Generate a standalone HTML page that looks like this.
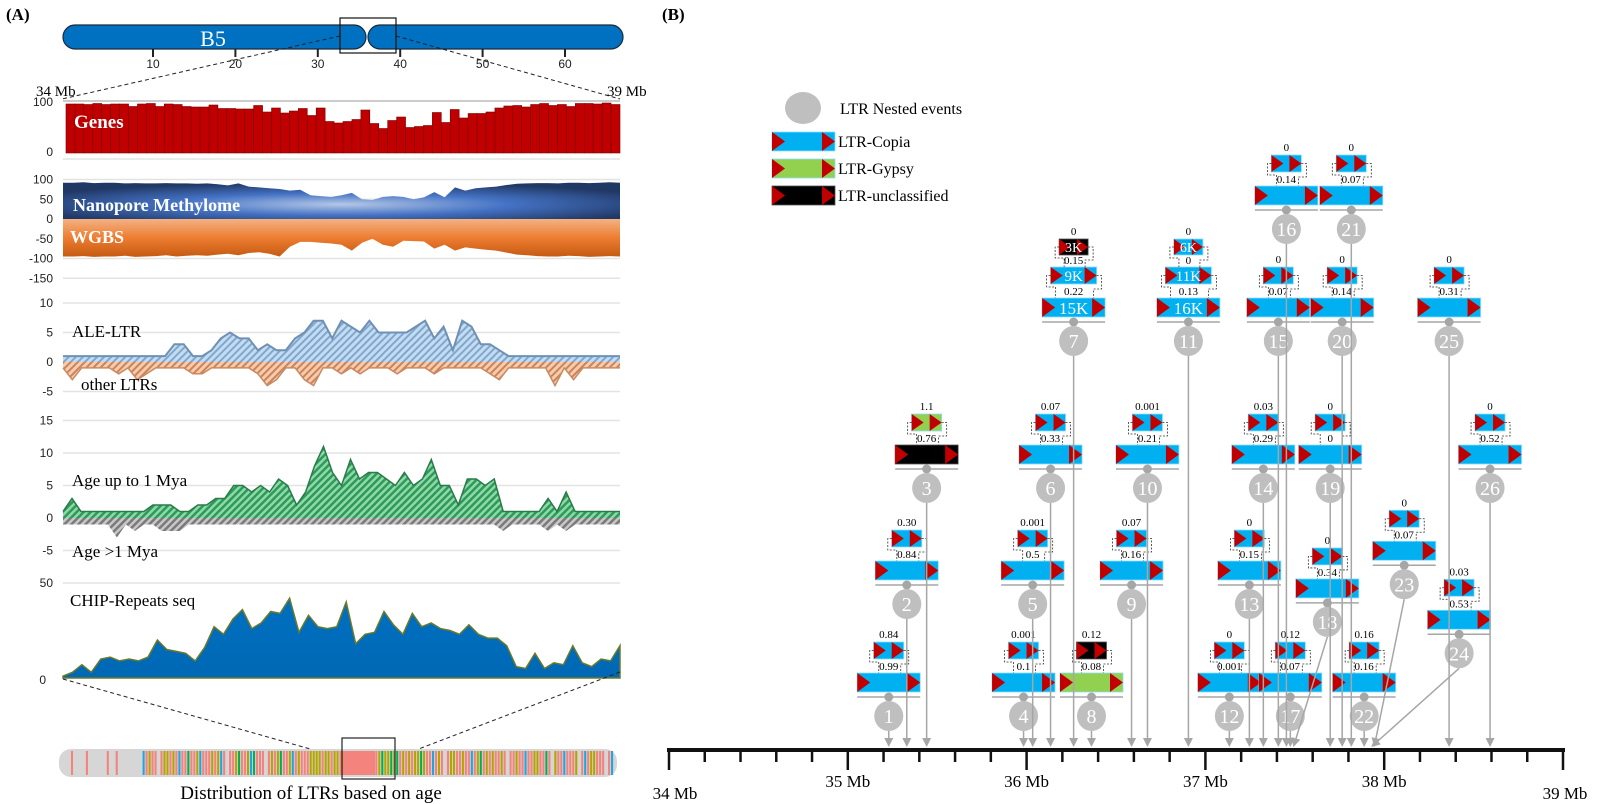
<!DOCTYPE html>
<html><head><meta charset="utf-8">
<style>
html,body{margin:0;padding:0;background:#fff;}
svg{display:block;font-family:"Liberation Serif",serif;}
.ax{font-family:"Liberation Sans",sans-serif;font-size:12px;fill:#222;}
</style></head>
<body>
<svg id="fig" width="1618" height="804" viewBox="0 0 1618 804" xmlns="http://www.w3.org/2000/svg">
<defs>
<pattern id="hBlue" width="5" height="5" patternUnits="userSpaceOnUse" patternTransform="rotate(45)"><rect width="5" height="5" fill="#c5dcf0"/><rect width="2" height="5" fill="#7fa8d0"/></pattern>
<pattern id="hOrange" width="5" height="5" patternUnits="userSpaceOnUse" patternTransform="rotate(45)"><rect width="5" height="5" fill="#f8cbad"/><rect width="2" height="5" fill="#c9845a"/></pattern>
<pattern id="hGreen" width="5" height="5" patternUnits="userSpaceOnUse" patternTransform="rotate(45)"><rect width="5" height="5" fill="#8fd8a8"/><rect width="2.5" height="5" fill="#2e9a5a"/></pattern>
<pattern id="hGray" width="5" height="5" patternUnits="userSpaceOnUse" patternTransform="rotate(45)"><rect width="5" height="5" fill="#c8c8c8"/><rect width="2.5" height="5" fill="#7a7a7a"/></pattern>
<radialGradient id="gBlue" cx="0.5" cy="0.6" r="0.6"><stop offset="0" stop-color="#b4c7e7"/><stop offset="0.5" stop-color="#4472c4"/><stop offset="1" stop-color="#203864"/></radialGradient>
<linearGradient id="gOrange" x1="0" y1="0" x2="0" y2="1"><stop offset="0" stop-color="#f4b183"/><stop offset="0.5" stop-color="#ed7d31"/><stop offset="1" stop-color="#c55a11"/></linearGradient>
<linearGradient id="gChip" x1="0" y1="0" x2="0" y2="1"><stop offset="0" stop-color="#0070c0"/><stop offset="1" stop-color="#0068b5"/></linearGradient>
</defs>
<g id="panelA"></g>
<g id="panelB"></g>
</svg>
<script>
// ---------------- Panel A data ----------------
const geneValues = [98,98,97,99,97,98,98,93,98,99,93,98,97,93,92,92,96,89,89,88,88,95,82,90,80,84,89,75,90,63,60,63,67,86,59,49,65,72,51,53,55,81,61,87,70,79,79,82,90,94,95,92,97,99,95,97,93,99,99,98,100,97];
const nanoporeValues = [92,92,93,91,92,92,90,91,90,90,91,90,90,89,90,88,85,90,82,80,78,76,72,74,60,58,56,60,66,50,48,56,58,56,50,55,68,55,80,72,78,80,82,86,89,90,91,91,90,92,92,91,92,93,92];
const wgbsValues = [-95,-95,-94,-96,-95,-95,-93,-96,-95,-94,-92,-95,-93,-92,-93,-90,-88,-92,-86,-84,-88,-95,-70,-58,-58,-60,-62,-65,-80,-60,-50,-65,-70,-55,-56,-57,-75,-65,-80,-72,-75,-78,-80,-85,-90,-92,-94,-95,-95,-93,-94,-96,-95,-94,-95];
const aleValues = [1,1,1,1,1,1,1,1,1,1,1,1,3,3,1,1,2,4,5,4,4,2,3,2,2,4,5,7,7,4,7,6,5,7,5,5,5,5,6,7,4,6,2,7,6,3,3,2,1,1,1,1,1,1,1,1,1,1,1,1,1];
const otherLtrValues = [-1,-3,-1,-1,-1,-1,-2,-1,-3,-2,-1,-1,-1,-1,-2,-2,-1,-1,-1,-1,-1,-2,-4,-3,-1,-1,-3,-4,-1,-1,-2,-1,-2,-1,-1,-1,-2,-1,-1,-1,-2,-1,-1,-1,-1,-1,-2,-3,-1,-1,-1,-1,-1,-4,-1,-3,-1,-1,-1,-1,-1];
const youngValues = [1,3,1,1,1,1,1,1,1,1,2,2,2,1,1,2,2,3,3,5,5,4,5,4,6,5,2,4,8,11,7,5,9,6,7,7,6,5,7,5,6,9,5,5,2,6,6,5,6,1,1,1,1,1,3,1,4,1,1,1,1,1,1];
const oldValues = [-1,-1,-1,-1,-1,-1,-3,-1,-2,-1,-1,-2,-2,-2,-1,-1,-1,-1,-1,-1,-1,-1,-1,-1,-1,-1,-1,-1,-1,-1,-1,-1,-1,-1,-1,-1,-1,-1,-1,-1,-1,-1,-1,-1,-1,-1,-1,-1,-1,-2,-1,-1,-1,-1,-2,-1,-2,-1,-1,-1,-1,-1,-1];
const chipValues = [1,3,7,3,10,11,9,10,9,11,20,15,14,13,9,16,27,23,31,36,26,29,35,34,42,24,33,27,26,27,40,18,23,24,35,28,23,34,27,29,26,25,23,28,23,21,21,17,6,5,13,5,8,7,17,8,6,10,9,17];
const chromTicks = [10,20,30,40,50,60];
const methTicks = [100,50,0,-50,-100,-150];
const aleTicks = [10,5,0,-5];
const ageTicks = [15,10,5,0,-5];
const chipTicks = [50,0];
const ageStrip = "gggsggggsggggggsggsggggggggbsossgsoososbssessobsssosobsgssoessobesssgsosoessobsosssoooosoosoososssssssssssoeooeoesososooeossbsosgsoossossbsoesosossosgssossbssoossesgossbsssogsbsoosssgsb";

// ---------------- Panel B data ----------------
const eventIds = [1,2,3,4,5,6,7,8,9,10,11,12,13,14,15,16,17,18,19,20,21,22,23,24,25,26];
const eventMb = [35.229,35.330,35.441,35.983,36.034,36.134,36.263,36.363,36.587,36.676,36.905,37.134,37.246,37.324,37.408,37.453,37.475,37.682,37.698,37.765,37.816,37.888,38.112,38.419,38.363,38.592];
const eventTargetMb = [35.229,35.330,35.441,35.983,36.034,36.134,36.263,36.363,36.587,36.676,36.905,37.134,37.246,37.324,37.408,37.453,37.475,37.492,37.698,37.765,37.816,37.888,37.944,37.927,38.363,38.592];
const eventTier = [0,1,2,0,1,2,3,0,1,2,3,0,1,2,3,4,0,0.84,2,3,4,0,1.17,0.56,3,2];
const outerType = ["C","C","U","C","C","C","C","G","C","C","C","C","C","C","C","C","C","C","C","C","C","C","C","C","C","C"];
const innerType = ["C","C","G","C","C","C","C","U","C","C","C","C","C","C","C","C","C","C","C","C","C","C","C","C","C","C"];
const innerAge = ["0.84","0.30","1.1","0.001","0.001","0.07","0.15","0.12","0.07","0.001","0","0","0","0.03","0","0","0.12","0","0","0","0","0.16","0","0.03","0","0"];
const outerAge = ["0.99","0.84","0.76","0.1","0.5","0.33","0.22","0.08","0.16","0.21","0.13","0.001","0.15","0.29","0.07","0.14","0.07","0.34","0","0.14","0.07","0.16","0.07","0.53","0.31","0.52"];
const outerLabel = ["","","","","","","15K","","","","16K","","","","","","","","","","","","","","",""];
const innerLabel = ["","","","","","","9K","","","","11K","","","","","","","","","","","","","","",""];
const thirdLabel = ["","","","","","","3K","","","","6K","","","","","","","","","","","","","","",""];
const thirdType = ["","","","","","","U","","","","C","","","","","","","","","","","","","","",""];
const thirdAge = ["","","","","","","0","","","","0","","","","","","","","","","","","","","",""];
const axisMbStart = 34, axisMbEnd = 39;
const axisLabels = ["34 Mb","35 Mb","36 Mb","37 Mb","38 Mb","39 Mb"];
const legendLabels = ["LTR Nested events","LTR-Copia","LTR-Gypsy","LTR-unclassified"];

// ---------------- helpers ----------------
const NS="http://www.w3.org/2000/svg";
function mk(parent, tag, attrs, text){
  const e=document.createElementNS(NS,tag);
  for(const k in attrs) e.setAttribute(k,attrs[k]);
  if(text!==undefined) e.textContent=text;
  parent.appendChild(e); return e;
}
const A=document.getElementById('panelA');
const B=document.getElementById('panelB');
const AX0=63, AX1=620;

function areaPath(vals, yScale){
  const n=vals.length, step=(AX1-AX0)/(n-1);
  let d=`M${AX0},${yScale(0)}`;
  vals.forEach((v,i)=>{ d+=` L${(AX0+i*step).toFixed(1)},${yScale(v).toFixed(1)}`; });
  d+=` L${AX1},${yScale(0)} Z`;
  return d;
}
function linePath(vals, yScale){
  const n=vals.length, step=(AX1-AX0)/(n-1);
  return vals.map((v,i)=>`${i?'L':'M'}${(AX0+i*step).toFixed(1)},${yScale(v).toFixed(1)}`).join(' ');
}
function gridAndTicks(ticks, yScale, name, xLab){
  ticks.forEach(t=>{
    const g=mk(A,'line',{x1:AX0,x2:AX1,y1:yScale(t),y2:yScale(t),stroke:'#e3e3e3','stroke-width':1.5});
    
    
    const l=mk(A,'text',{x:xLab||53,y:yScale(t)+4,'text-anchor':'end',class:'ax'},String(t));
    
    
  });
}

// ---------------- Panel A ----------------
(function(){
  let t=mk(A,'text',{x:6,y:20,'font-size':17,'font-weight':'bold'},'(A)');
   
  // chromosome
  let c1=mk(A,'rect',{x:63,y:25,width:303,height:24,rx:12,fill:'#0070c0',stroke:'#1a2a3a','stroke-width':1.2});
   
  let c2=mk(A,'rect',{x:368,y:25,width:255,height:24,rx:12,fill:'#0070c0',stroke:'#1a2a3a','stroke-width':1.2});
   
  t=mk(A,'text',{x:213,y:46,'font-size':22,fill:'#fff','text-anchor':'middle'},'B5');
   
  const chrX=v=>153+(v-10)*8.24;
  chromTicks.forEach(v=>{
    const tk=mk(A,'line',{x1:chrX(v),x2:chrX(v),y1:49,y2:57,stroke:'#222','stroke-width':2});
     
    const tl=mk(A,'text',{x:chrX(v),y:68,'text-anchor':'middle',class:'ax','font-size':13,fill:'#444'},String(v));
     
  });
  let zb=mk(A,'rect',{x:340,y:18,width:56,height:35,fill:'none',stroke:'#111','stroke-width':1.2});
   
  let dl=mk(A,'path',{d:'M340,36 L62,99 M396,36 L620,99',stroke:'#222','stroke-width':1,'stroke-dasharray':'4,3',fill:'none'});
   
  t=mk(A,'text',{x:36,y:96,'font-size':15},'34 Mb');  
  t=mk(A,'text',{x:607,y:96,'font-size':15},'39 Mb');  

  // Genes
  const gy=v=>153-v*0.5;
  mk(A,'line',{x1:AX0,x2:AX1,y1:101,y2:101,stroke:'#ccc','stroke-width':2});
  mk(A,'line',{x1:AX0,x2:AX1,y1:159,y2:159,stroke:'#e3e3e3','stroke-width':1.5});
  t=mk(A,'text',{x:53,y:106,'text-anchor':'end',class:'ax','font-size':11},'100');  
  t=mk(A,'text',{x:53,y:156,'text-anchor':'end',class:'ax','font-size':11},'0');  
  const bw=(AX1-66)/geneValues.length;
  geneValues.forEach((v,i)=>{
    const b=mk(A,'rect',{x:66+i*bw,y:gy(v),width:bw,height:153-gy(v),fill:'#c00000',stroke:'#7a0000','stroke-width':0.6});
    
    
  });
  t=mk(A,'text',{x:74,y:128,'font-size':19,'font-weight':'bold',fill:'#fff'},'Genes');  

  // Methylome
  const my=v=>219-v*0.395;
  gridAndTicks(methTicks,my,'methylation');
  let p=mk(A,'path',{d:areaPath(nanoporeValues,my),fill:'url(#gBlue)'});  
  p=mk(A,'path',{d:areaPath(wgbsValues,my),fill:'url(#gOrange)'});  
  t=mk(A,'text',{x:73,y:211,'font-size':18,'font-weight':'bold',fill:'#fff'},'Nanopore Methylome');  
  t=mk(A,'text',{x:70,y:243,'font-size':18,'font-weight':'bold',fill:'#fff'},'WGBS');  

  // ALE vs other
  const ay=v=>362-v*5.9;
  gridAndTicks(aleTicks,ay,'ale');
  p=mk(A,'path',{d:areaPath(otherLtrValues,ay),fill:'url(#hOrange)'});  
  p=mk(A,'path',{d:linePath(otherLtrValues,ay),fill:'none',stroke:'#c98a62','stroke-width':1.5});  
  p=mk(A,'path',{d:areaPath(aleValues,ay),fill:'url(#hBlue)'});  
  p=mk(A,'path',{d:linePath(aleValues,ay),fill:'none',stroke:'#7090b4','stroke-width':2});  
  t=mk(A,'text',{x:72,y:337,'font-size':17},'ALE-LTR');  
  t=mk(A,'text',{x:81,y:390,'font-size':17},'other LTRs');  

  // Age
  const gy2=v=>518-v*6.5;
  gridAndTicks(ageTicks,gy2,'age');
  p=mk(A,'path',{d:areaPath(oldValues,gy2),fill:'url(#hGray)'});  
  p=mk(A,'path',{d:areaPath(youngValues,gy2),fill:'url(#hGreen)'});  
  p=mk(A,'path',{d:linePath(youngValues,gy2),fill:'none',stroke:'#2a7a4a','stroke-width':1.5});  
  t=mk(A,'text',{x:72,y:486,'font-size':17},'Age  up to 1 Mya');  
  t=mk(A,'text',{x:72,y:557,'font-size':17},'Age >1 Mya');  

  // CHIP
  const cy=v=>678-v*1.9;
  gridAndTicks([50],cy,'chip');
  t=mk(A,'text',{x:46,y:684,'text-anchor':'end',class:'ax','font-size':13},'0');  
  p=mk(A,'path',{d:areaPath(chipValues,cy),fill:'url(#gChip)',stroke:'#6b7a2a','stroke-width':1.5});  
  t=mk(A,'text',{x:70,y:606,'font-size':17},'CHIP-Repeats seq');  

  dl=mk(A,'path',{d:'M63,679 L342,758 M620,672 L395,758',stroke:'#222','stroke-width':1,'stroke-dasharray':'4,3',fill:'none'});
   

  // age strip
  let bg=mk(A,'rect',{x:59,y:749,width:558,height:28,rx:12,fill:'#d6d6d6'});
   
  const cols={s:'#f4837d',o:'#b3a400',e:'#00b050',b:'#1fa6e0'};
  const cw=(614-62)/ageStrip.length;
  for(let i=0;i<ageStrip.length;i++){
    const ch=ageStrip[i]; if(ch==='g') continue;
    const r=mk(A,'rect',{x:62+i*cw,y:751,width:cw*0.7,height:24,fill:cols[ch]});
    
    
  }
  let blk=mk(A,'rect',{x:343,y:751,width:32,height:24,fill:'#f4837d'});
   
  zb=mk(A,'rect',{x:342,y:738,width:53,height:41,fill:'none',stroke:'#222','stroke-width':1.2});
   
  t=mk(A,'text',{x:311,y:799,'font-size':19,'text-anchor':'middle'},'Distribution of LTRs based on age');
   
})();

// ---------------- Panel B ----------------
const BX0=669, BX1=1563, AXY=750;
const bx=mb=>BX0+(mb-axisMbStart)*(BX1-BX0)/(axisMbEnd-axisMbStart);
const tierTops=[673,561,445,298,186];
const tierY=t=>{const i=Math.min(Math.floor(t),3);const f=t-i;return tierTops[i]+(tierTops[i+1]-tierTops[i])*f;};
const fillOf={C:'#00b0f0',G:'#92d050',U:'#000'};

function element(parent,x,y,w,h,type,label,name){
  const g=mk(parent,'g',{});
  
  
  mk(g,'rect',{x:x,y:y,width:w,height:h,fill:fillOf[type],stroke:type==='U'?'#555':'#8fdcff','stroke-width':0.8});
  const tw=Math.round(h*0.68);
  mk(g,'path',{d:`M${x},${y} L${x+tw},${y+h/2} L${x},${y+h} Z`,fill:'#c00000'});
  mk(g,'path',{d:`M${x+w-tw},${y} L${x+w},${y+h/2} L${x+w-tw},${y+h} Z`,fill:'#c00000'});
  if(label) mk(g,'text',{x:x+w/2,y:y+h-3,'text-anchor':'middle','font-size':h-2,fill:'#fff'},label);
  return g;
}
function bracket(parent,sx0,sx1,sy,sh,by,name){
  const mid=sy+sh/2, low=sy+sh+3;
  const p=mk(parent,'path',{d:`M${sx0},${mid} H${sx0-4} V${low} H${sx0+5} V${by} M${sx1},${mid} H${sx1+5} V${low+2} H${sx1-3} V${by}`,fill:'none',stroke:'#333','stroke-width':0.8,'stroke-dasharray':'2,1.5'});
  
  
}
function ageText(parent,x,y,s,name){
  const t=mk(parent,'text',{x:x,y:y,'text-anchor':'middle','font-size':11},s);
  
  
}

(function(){
  let t=mk(B,'text',{x:662,y:20,'font-size':17,'font-weight':'bold'},'(B)');
   

  // legend
  const lg=mk(B,'g',{});  
  let le=mk(lg,'ellipse',{cx:803,cy:108,rx:18,ry:16,fill:'#bfbfbf'});  
  t=mk(lg,'text',{x:840,y:114,'font-size':16},legendLabels[0]);  
  ['C','G','U'].forEach((ty,i)=>{
    element(lg,772,132+i*27,63,19,ty,'','legend-swatch');
    const tt=mk(lg,'text',{x:838,y:147+i*27,'font-size':16},legendLabels[i+1]);
     
  });

  // axis
  const ag=mk(B,'g',{});  
  mk(ag,'line',{x1:BX0-2,x2:BX1+2,y1:AXY,y2:AXY,stroke:'#111','stroke-width':4});
  for(let k=0;k<=(axisMbEnd-axisMbStart)*5;k++){
    const x=bx(axisMbStart+k/5), major=k%5===0;
    const tk=mk(ag,'line',{x1:x,x2:x,y1:AXY,y2:AXY+(major?20:12),stroke:'#111','stroke-width':2.5});
    
    
  }
  axisLabels.forEach((s,i)=>{
    const x=bx(axisMbStart+i), end=(i===0||i===axisLabels.length-1);
    const tl=mk(ag,'text',{x:x+(i===0?6:(end?2:0)),y:end?799:787,'text-anchor':'middle','font-size':17},s);
     
  });

  // events
  const lineLayer=[];
  eventIds.forEach((id,i)=>{
    const g=mk(B,'g',{});
    
    
    const cx=bx(eventMb[i]), y=tierY(eventTier[i]);
    const W=63,H=19,sw=30,sh=17;
    element(g,cx-W/2,y,W,H,outerType[i],outerLabel[i],'outer-ltr-element');
    let innerY=y-31, innerW=sw, innerH=sh;
    if(innerLabel[i]){ innerW=46; innerH=17; }
    element(g,cx-innerW/2,innerY,innerW,innerH,innerType[i],innerLabel[i],'inner-ltr-element');
    bracket(g,cx-innerW/2,cx+innerW/2,innerY,innerH,y,'insertion-bracket');
    ageText(g,cx,y-3,outerAge[i],'outer-age-label');
    if(thirdLabel[i]){
      const ty=innerY-28, tw=29;
      element(g,cx-tw/2,ty,tw,16,thirdType[i],thirdLabel[i],'third-ltr-element');
      bracket(g,cx-tw/2,cx+tw/2,ty,16,innerY,'insertion-bracket');
      ageText(g,cx,innerY-3,innerAge[i],'inner-age-label');
      ageText(g,cx,ty-4,thirdAge[i],'third-age-label');
    } else {
      ageText(g,cx,innerY-4,innerAge[i],'inner-age-label');
    }
    const ly=y+H+5;
    mk(g,'line',{x1:cx-W/2,x2:cx+W/2,y1:ly,y2:ly,stroke:'#a6a6a6','stroke-width':1.5});
    mk(g,'circle',{cx:cx,cy:ly,r:4.5,fill:'#a6a6a6'});
    mk(g,'line',{x1:cx,x2:cx,y1:ly,y2:ly+10,stroke:'#a6a6a6','stroke-width':1.5});
    const ccy=ly+19;
    const el=mk(g,'ellipse',{cx:cx,cy:ccy,rx:14.5,ry:15,fill:'#bfbfbf'});
    
    
    const nt=mk(g,'text',{x:cx,y:ccy+7,'text-anchor':'middle','font-size':20,fill:'#fff'},String(id));
    
    
    lineLayer.push({x0:cx,y0:ccy+15,x1:bx(eventTargetMb[i]),id:id});
  });
  lineLayer.forEach(L=>{
    const tip=AXY-3;
    const dx=L.x1-L.x0, dy=tip-L.y0, len=Math.hypot(dx,dy), ux=dx/len, uy=dy/len;
    const bxp=L.x1-ux*9, byp=tip-uy*9;
    const ln=mk(B,'line',{x1:L.x0,y1:L.y0,x2:bxp,y2:byp,stroke:'#a6a6a6','stroke-width':1.5});
    
    
    const ah=mk(B,'path',{d:`M${L.x1},${tip} L${bxp-uy*4.5},${byp+ux*4.5} L${bxp+uy*4.5},${byp-ux*4.5} Z`,fill:'#a6a6a6'});
    
    
  });
})();
</script>
</body></html>
